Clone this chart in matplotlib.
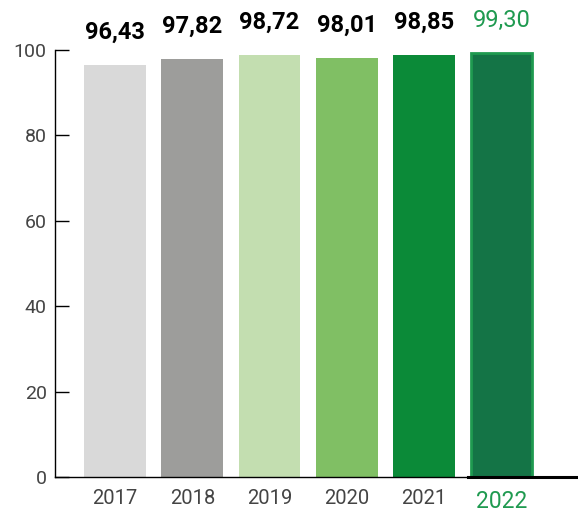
import numpy as np
from matplotlib import pyplot as plt

years = ['2017', '2018', '2019', '2020', '2021', '2022']
values = [96.43, 97.82, 98.72, 98.01, 98.85, 99.30]
labels = ['96,43', '97,82', '98,72', '98,01', '98,85', '99,30']
colors = ['#d9d9d9', '#9d9d9b', '#c3deb0', '#80bf64', '#0b8a38', '#147446']
yticks = [0, 20, 40, 60, 80, 100]

plt.rcParams['font.family'] = ['Roboto', 'DejaVu Sans']

if __name__ == '__main__':
    fig = plt.figure(figsize=(5.78, 5.14), dpi=100)
    ax = fig.add_axes([55 / 578, 1 - 477 / 514, 1 - 55 / 578, 427 / 514])

    x = np.arange(len(years))
    bars = ax.bar(x, values, width=0.8, color=colors, zorder=2)
    # 2022 is highlighted with a lighter green border
    bars[-1].set_edgecolor('#1f9a50')
    bars[-1].set_linewidth(2)

    for i, (v, lab) in enumerate(zip(values, labels)):
        last = i == len(values) - 1
        ax.annotate(lab, (x[i], v), xytext=(0, 19), textcoords='offset points',
                    ha='center', va='baseline', fontsize=17,
                    fontweight='normal' if last else 'bold',
                    color='#1f9a50' if last else 'black',
                    annotation_clip=False)

    ax.set_xlim(-0.776, 5.99)
    ax.set_ylim(0, 100)
    ax.set_yticks(yticks)
    ax.set_yticklabels([str(t) for t in yticks], fontsize=14, color='#444444')
    ax.set_xticks(x)
    ax.set_xticklabels(years, fontsize=14.5, color='#444444')
    ax.get_xticklabels()[-1].set_color('#1f9a50')
    ax.get_xticklabels()[-1].set_fontsize(16.5)

    ax.tick_params(axis='y', direction='in', length=10, width=1, pad=6)
    ax.tick_params(axis='x', length=0, pad=9)

    ax.spines['top'].set_visible(False)
    ax.spines['right'].set_visible(False)
    ax.spines['left'].set_linewidth(1)
    ax.spines['bottom'].set_linewidth(1)
    ax.axhline(0, xmin=(468 - 55) / (578 - 55), xmax=1, color='black', lw=2.2, zorder=3, clip_on=False)

    plt.savefig('out.png', dpi=100)
